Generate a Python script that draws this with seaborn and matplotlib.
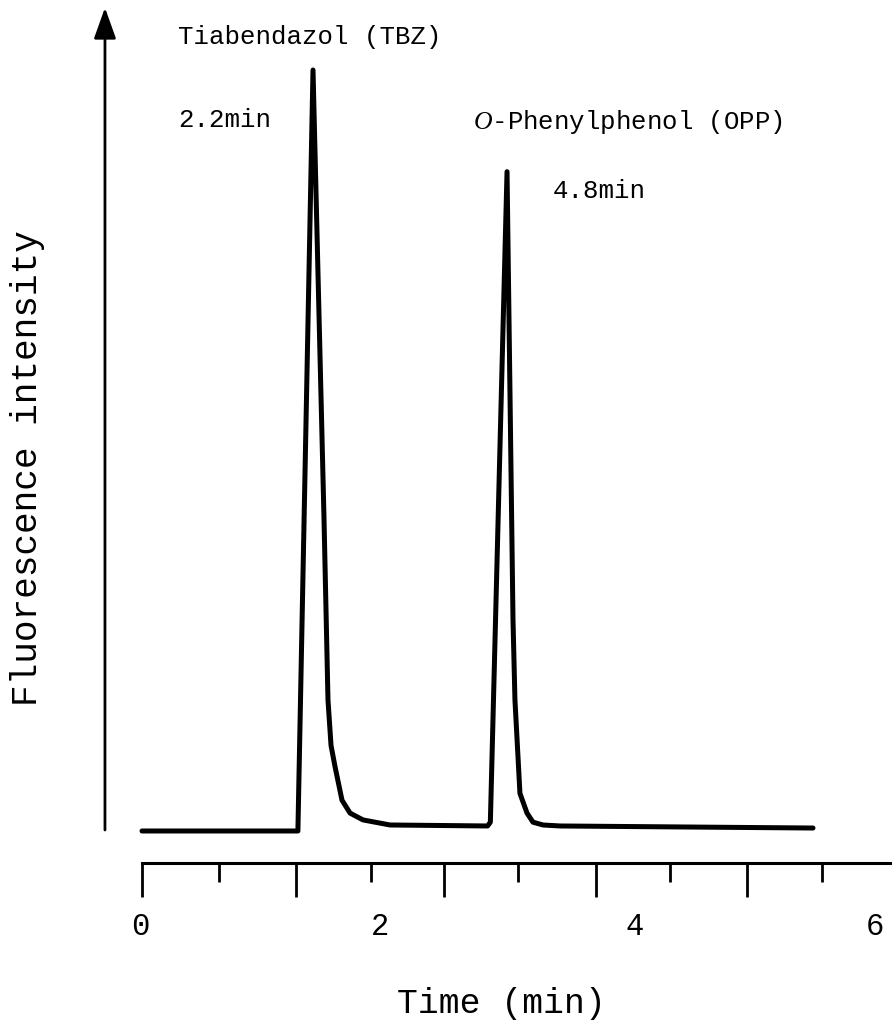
import numpy as np
import pandas as pd
import matplotlib
matplotlib.use("Agg")
import matplotlib.pyplot as plt
import seaborn as sns

# trace (time in min, intensity in arbitrary units)
time_min = [0.00, 1.28, 1.404, 1.494, 1.527, 1.552, 1.585, 1.642, 1.708, 1.814, 2.036,
            2.837, 2.86, 2.997, 3.046, 3.062, 3.103, 3.161, 3.210, 3.292, 3.432, 5.509]
intensity = [-0.26, -0.26, 100.0, 41.1, 17.0, 11.0, 8.2, 3.8, 2.1, 1.2, 0.53,
             0.40, 0.9, 86.6, 27.5, 17.0, 4.7, 2.1, 0.9, 0.53, 0.40, 0.13]

major_ticks = [0.0, 1.264, 2.48, 3.727, 4.967]
minor_ticks = [0.635, 1.878, 3.087, 4.335, 5.58]
tick_label_pos = [-0.016, 1.954, 4.048, 6.018]
tick_labels = ["0", "2", "4", "6"]

peak_names = ["Tiabendazol (TBZ)", r"$\mathit{O}$-Phenylphenol (OPP)"]
peak_times = ["2.2min", "4.8min"]

df = pd.DataFrame({"time": time_min, "intensity": intensity})

sns.set_theme(style="white")
plt.rcParams['font.family'] = ['Liberation Mono', 'DejaVu Sans']
plt.rcParams['mathtext.fontset'] = 'custom'
plt.rcParams['mathtext.it'] = 'Liberation Serif:italic'

fig = plt.figure(figsize=(8.92, 10.30), dpi=100)
ax = fig.add_axes([0, 0, 1, 1])

# trace
sns.lineplot(data=df, x="time", y="intensity", ax=ax, color="black",
             linewidth=3.6, estimator=None, sort=False)

ax.set_xlim(-1.1658, 6.1576)
ax.set_ylim(-26.48, 109.22)

# y axis as an arrow
ax.annotate("", xy=(-0.304, 108.2), xytext=(-0.304, -0.13),
            arrowprops=dict(arrowstyle="-|>,head_length=19,head_width=6.8",
                            color="black", lw=2.0, mutation_scale=1,
                            shrinkA=0, shrinkB=0))

# x axis line with ticks
for side in ["left", "right", "top"]:
    ax.spines[side].set_visible(False)
ax.spines["bottom"].set_position(("data", -4.48))
ax.spines["bottom"].set_bounds(0, 6.16)
ax.spines["bottom"].set_linewidth(2.2)
ax.spines["bottom"].set_color("black")
ax.set_xticks(major_ticks)
ax.set_xticks(minor_ticks, minor=True)
ax.tick_params(axis="x", which="major", direction="out", length=24.5, width=2.0,
               color="black", labelbottom=False, bottom=True)
ax.tick_params(axis="x", which="minor", direction="out", length=13.7, width=2.0,
               color="black", bottom=True)
ax.set_yticks([])
ax.set_xlabel("")
ax.set_ylabel("")

for pos, lab in zip(tick_label_pos, tick_labels):
    ax.text(pos, -12.9, lab, ha="center", va="center", fontsize=22, color="black")

ax.text(2.95, -23.0, "Time (min)", ha="center", va="center", fontsize=25, color="black")
ax.text(-0.94, 47.5, "Fluorescence intensity", ha="center", va="center",
        rotation=90, fontsize=26, color="black")

# peak annotations
ax.text(0.296, 104.3, peak_names[0], ha="left", va="center", fontsize=18.5, color="black")
ax.text(0.296, 93.4, peak_times[0], ha="left", va="center", fontsize=18.5, color="black")
ax.text(2.718, 93.1, peak_names[1], ha="left", va="center", fontsize=18.5, color="black")
ax.text(3.374, 84.1, peak_times[1], ha="left", va="center", fontsize=18.5, color="black")

fig.savefig("out.png", dpi=100, facecolor="white")
